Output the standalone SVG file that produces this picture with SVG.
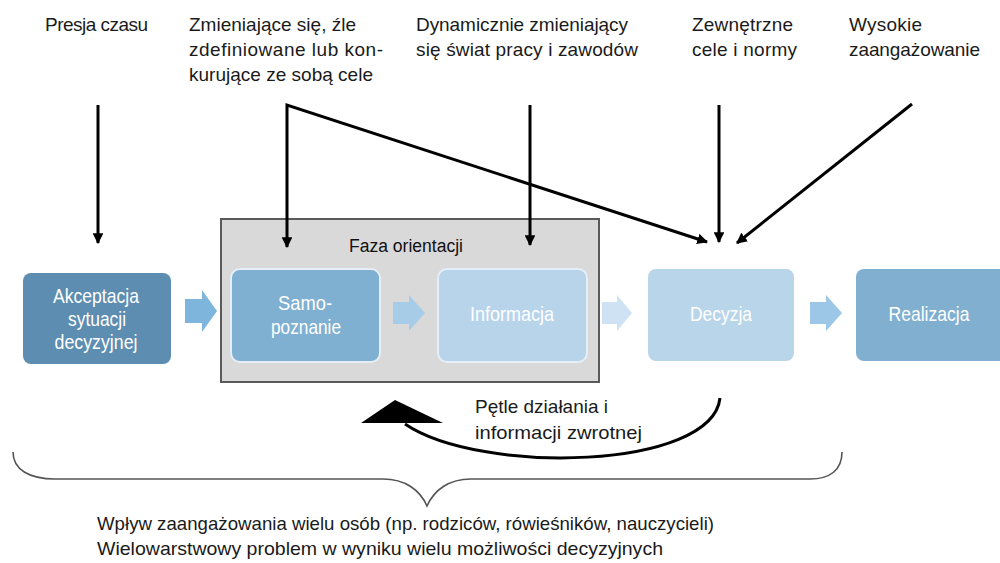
<svg xmlns="http://www.w3.org/2000/svg" width="1000" height="563" viewBox="0 0 1000 563">
<style>
.lbl{font-family:"Liberation Sans",Arial,sans-serif;font-size:19px;fill:#1a1a1a}
.box{font-family:"Liberation Sans",Arial,sans-serif;font-size:21px;fill:#ffffff;text-anchor:middle}
.faza{font-family:"Liberation Sans",Arial,sans-serif;font-size:18px;fill:#111;text-anchor:middle}
.note{font-family:"Liberation Sans",Arial,sans-serif;font-size:19px;fill:#1a1a1a}
.ar{fill:none;stroke:#000;stroke-width:3;marker-end:url(#ah)}
</style>
<defs>
<marker id="ah" viewBox="0 0 10 10" refX="9" refY="5" markerWidth="3.6" markerHeight="3.6" orient="auto-start-reverse" markerUnits="strokeWidth">
<path d="M0,0 L10,5 L0,10 Z" fill="#000"/>
</marker>
</defs>
<rect width="1000" height="563" fill="#fff"/>

<g id="labels-top">
<text class="lbl" x="45" y="31" textLength="103" lengthAdjust="spacing">Presja czasu</text>
<text class="lbl" x="189" y="31" textLength="167" lengthAdjust="spacing">Zmieniające się, źle</text>
<text class="lbl" x="189" y="56" textLength="194" lengthAdjust="spacing">zdefiniowane lub kon-</text>
<text class="lbl" x="189" y="81" textLength="184" lengthAdjust="spacing">kurujące ze sobą cele</text>
<text class="lbl" x="416" y="31" textLength="212" lengthAdjust="spacing">Dynamicznie zmieniający</text>
<text class="lbl" x="416" y="56" textLength="222" lengthAdjust="spacing">się świat pracy i zawodów</text>
<text class="lbl" x="692" y="31" textLength="101" lengthAdjust="spacing">Zewnętrzne</text>
<text class="lbl" x="692" y="56" textLength="105" lengthAdjust="spacing">cele i normy</text>
<text class="lbl" x="849" y="31" textLength="73" lengthAdjust="spacing">Wysokie</text>
<text class="lbl" x="849" y="56" textLength="131" lengthAdjust="spacing">zaangażowanie</text>
</g>

<g id="faza-orientacji">
<rect x="221" y="219" width="378" height="163" fill="#d9d9d9" stroke="#5a5a5a" stroke-width="2"/>
<text class="faza" x="406" y="252" textLength="114" lengthAdjust="spacingAndGlyphs">Faza orientacji</text>
</g>

<g id="akceptacja">
<rect x="23" y="273" width="148" height="91" rx="8" fill="#5d8db0"/>
<text class="box" x="96" y="303" textLength="86" lengthAdjust="spacingAndGlyphs">Akceptacja</text>
<text class="box" x="97" y="326" textLength="58" lengthAdjust="spacingAndGlyphs">sytuacji</text>
<text class="box" x="96" y="349" textLength="83" lengthAdjust="spacingAndGlyphs">decyzyjnej</text>
</g>

<g id="samopoznanie">
<rect x="231" y="269" width="149" height="93" rx="9" fill="#7fafd1" stroke="#e6eff7" stroke-width="2"/>
<text class="box" x="305" y="310" textLength="54" lengthAdjust="spacingAndGlyphs">Samo-</text>
<text class="box" x="306" y="334" textLength="70" lengthAdjust="spacingAndGlyphs">poznanie</text>
</g>

<g id="informacja">
<rect x="438" y="269" width="149" height="93" rx="9" fill="#b7d4eb" stroke="#e6eff7" stroke-width="2"/>
<text class="box" x="512" y="321" textLength="84" lengthAdjust="spacingAndGlyphs" fill="#f4f8fc">Informacja</text>
</g>

<g id="decyzja">
<rect x="648" y="269" width="146" height="92" rx="8" fill="#b9d5ea"/>
<text class="box" x="721" y="321" textLength="62" lengthAdjust="spacingAndGlyphs">Decyzja</text>
</g>

<g id="realizacja">
<rect x="856" y="269" width="156" height="92" rx="8" fill="#80afd0"/>
<text class="box" x="929" y="321" textLength="81" lengthAdjust="spacingAndGlyphs">Realizacja</text>
</g>

<g id="connectors">
<path d="M185,299 H202 V290 L217,311 L202,332 V323 H185 Z" fill="#7db5dd"/>
<path d="M393,302 H409 V295 L425,313 L409,331 V324 H393 Z" fill="#a6cce8"/>
<path d="M602,302 H617 V295 L632,313 L617,331 V324 H602 Z" fill="#cfe2f3"/>
<path d="M810,302 H826 V295 L842,313 L826,331 V324 H810 Z" fill="#9cc7e7"/>

<line class="ar" x1="98" y1="105" x2="98" y2="243"/>
<path d="M707,242 L287,105 L287,247" fill="none" stroke="#000" stroke-width="3" marker-start="url(#ah)" marker-end="url(#ah)"/>
<line class="ar" x1="530" y1="105" x2="530" y2="245"/>
<line class="ar" x1="719" y1="105" x2="719" y2="242"/>
<line class="ar" x1="912" y1="104" x2="737" y2="243"/>

<path d="M720,398 C712,470 480,475 405,424" fill="none" stroke="#000" stroke-width="3"/>
<path d="M395,400 L443,423 L361,423 Z" fill="#000"/>

<path d="M13,452 C13,470 30,479 55,479 H383 C405,479 420,490 427,506 C434,490 449,479 471,479 H810 C830,479 842,470 842,452" fill="none" stroke="#555" stroke-width="1.6"/>
</g>

<g id="feedback-label">
<text class="note" x="475" y="413" textLength="133" lengthAdjust="spacingAndGlyphs">Pętle działania i</text>
<text class="note" x="475" y="439" textLength="167" lengthAdjust="spacingAndGlyphs">informacji zwrotnej</text>
</g>

<g id="bottom-text">
<text class="note" x="97" y="530" textLength="617" lengthAdjust="spacingAndGlyphs">Wpływ zaangażowania wielu osób (np. rodziców, rówieśników, nauczycieli)</text>
<text class="note" x="97" y="555" textLength="566" lengthAdjust="spacingAndGlyphs">Wielowarstwowy problem w wyniku wielu możliwości decyzyjnych</text>
</g>
</svg>
